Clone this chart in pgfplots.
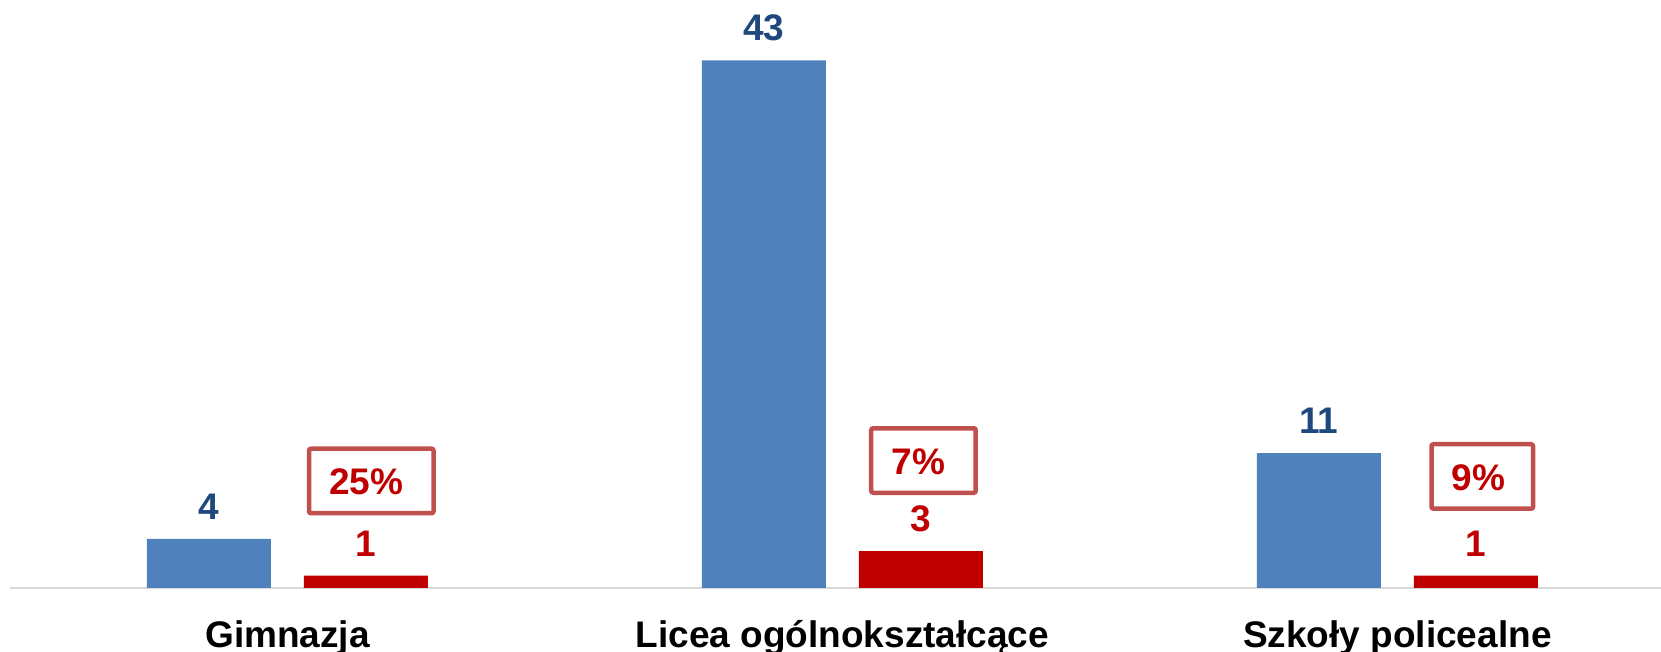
\documentclass[border=0pt]{standalone}
\usepackage{pgfplots}
\pgfplotsset{compat=1.18}
\usepackage{fontspec}
\setmainfont{Liberation Sans}
\definecolor{barblue}{HTML}{4F81BD}
\definecolor{barred}{HTML}{C00000}
\definecolor{lblblue}{HTML}{1F497D}
\definecolor{boxred}{HTML}{C0504D}
\definecolor{axgray}{HTML}{D9D9D9}
\begin{document}
\begin{tikzpicture}
\begin{axis}[
 at={(0,0)}, anchor=south west,
 scale only axis, width=825.5pt, height=294pt,
 xmin=-0.5, xmax=2.475, ymin=0, ymax=47.92,
 axis x line=bottom, axis y line=none,
 x axis line style={-, draw=axgray, line width=1pt},
 ybar=16.5pt, bar width=62pt,
 xtick={0,1,2}, xticklabels={Gimnazja, Licea ogólnokształcące, Szkoły policealne},
 xtick style={draw=none},
 xticklabel style={anchor=base, yshift=-25.5pt, inner sep=0pt, font=\fontsize{18.5}{22}\selectfont\bfseries, text=black},
 ytick=\empty,
 /pgf/number format/assume math mode=true,
 nodes near coords,
 every node near coord/.append style={anchor=south, inner sep=0pt, yshift=9.5pt, font=\fontsize{18.5}{22}\selectfont\bfseries},
 clip=false,
]
\addplot[fill=barblue, draw=none, every node near coord/.append style={text=lblblue}] coordinates {(0,4) (1,43) (2,11)};
\addplot[fill=barred, draw=none, every node near coord/.append style={text=barred}] coordinates {(0,1) (1,3) (2,1)};
\node[draw=boxred, line width=2.25pt, rounded corners=1pt, minimum width=62.25pt, minimum height=32.25pt, inner sep=0pt] at (axis cs:0.151,8.72) {};
\node[draw=boxred, line width=2.25pt, rounded corners=1pt, minimum width=52.25pt, minimum height=32.25pt, inner sep=0pt] at (axis cs:1.146,10.39) {};
\node[draw=boxred, line width=2.25pt, rounded corners=1pt, minimum width=50.75pt, minimum height=32.25pt, inner sep=0pt] at (axis cs:2.153,9.09) {};
\node[anchor=base, inner sep=0pt, text=barred, font=\fontsize{18.5}{22}\selectfont\bfseries] at (axis cs:0.142,7.58) {25\%};
\node[anchor=base, inner sep=0pt, text=barred, font=\fontsize{18.5}{22}\selectfont\bfseries] at (axis cs:1.137,9.21) {7\%};
\node[anchor=base, inner sep=0pt, text=barred, font=\fontsize{18.5}{22}\selectfont\bfseries] at (axis cs:2.146,7.93) {9\%};
\end{axis}
\pgfresetboundingbox
\path[use as bounding box] (-5pt,-32pt) rectangle (825.5pt,294pt);
\end{tikzpicture}
\end{document}
